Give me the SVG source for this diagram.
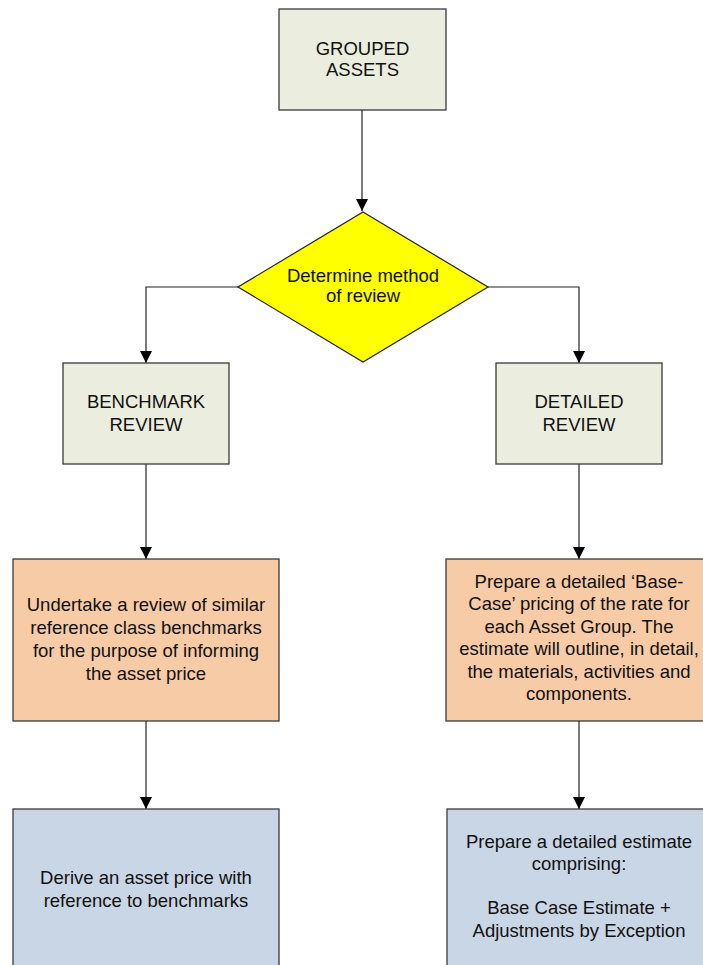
<svg xmlns="http://www.w3.org/2000/svg" width="703" height="965" viewBox="0 0 703 965">
<style>
.box{stroke:#3a3a3a;stroke-width:1.3}
.g{fill:#EBEDDF}
.o{fill:#F8CBA7}
.b{fill:#C9D6E6}
.y{fill:#FFFF00;stroke:#222;stroke-width:1.2}
text{font-family:"Liberation Sans",Arial,sans-serif;font-size:18.5px;fill:#111;text-anchor:middle}
.c{fill:none;stroke:#222;stroke-width:1.2}
</style>
<defs>
<marker id="ah" markerUnits="userSpaceOnUse" markerWidth="12" markerHeight="12" refX="12" refY="6" orient="auto">
<path d="M0,0 L12,6 L0,12 z" fill="#000"/>
</marker>
</defs>
<g id="connectors">
<path class="c" d="M362,110 V211" marker-end="url(#ah)"/>
<path class="c" d="M238,287 H146 V363" marker-end="url(#ah)"/>
<path class="c" d="M488,287 H579 V363" marker-end="url(#ah)"/>
<path class="c" d="M146,464 V559" marker-end="url(#ah)"/>
<path class="c" d="M579,464 V559" marker-end="url(#ah)"/>
<path class="c" d="M146,721 V809" marker-end="url(#ah)"/>
<path class="c" d="M579,721 V809" marker-end="url(#ah)"/>
</g>
<g id="grouped">
<rect class="box g" x="279" y="9" width="167" height="101"/>
<text x="362.5" y="55">GROUPED</text>
<text x="362.5" y="76">ASSETS</text>
</g>
<g id="decision">
<polygon class="y" points="363,212 488,287 363,362 238,287"/>
<text x="363" y="282">Determine method</text>
<text x="363" y="302">of review</text>
</g>
<g id="benchmark">
<rect class="box g" x="63" y="363" width="166" height="101"/>
<text x="146" y="408">BENCHMARK</text>
<text x="146" y="431">REVIEW</text>
</g>
<g id="detailed">
<rect class="box g" x="496" y="363" width="166" height="101"/>
<text x="579" y="408">DETAILED</text>
<text x="579" y="431">REVIEW</text>
</g>
<g id="undertake">
<rect class="box o" x="13" y="559" width="266" height="162"/>
<text x="146" y="610.5">Undertake a review of similar</text>
<text x="146" y="633.5">reference class benchmarks</text>
<text x="146" y="656.5">for the purpose of informing</text>
<text x="146" y="679.5">the asset price</text>
</g>
<g id="prepare-base">
<rect class="box o" x="446" y="559" width="266" height="162"/>
<text x="579" y="587.5">Prepare a detailed ‘Base-</text>
<text x="579" y="610">Case’ pricing of the rate for</text>
<text x="579" y="632.5">each Asset Group. The</text>
<text x="579" y="655">estimate will outline, in detail,</text>
<text x="579" y="677.5">the materials, activities and</text>
<text x="579" y="700">components.</text>
</g>
<g id="derive">
<rect class="box b" x="13" y="809" width="266" height="170"/>
<text x="146" y="884">Derive an asset price with</text>
<text x="146" y="906.5">reference to benchmarks</text>
</g>
<g id="prepare-estimate">
<rect class="box b" x="447" y="809" width="266" height="170"/>
<text x="579" y="848">Prepare a detailed estimate</text>
<text x="579" y="870">comprising:</text>
<text x="579" y="914">Base Case Estimate +</text>
<text x="579" y="937">Adjustments by Exception</text>
</g>
</svg>
